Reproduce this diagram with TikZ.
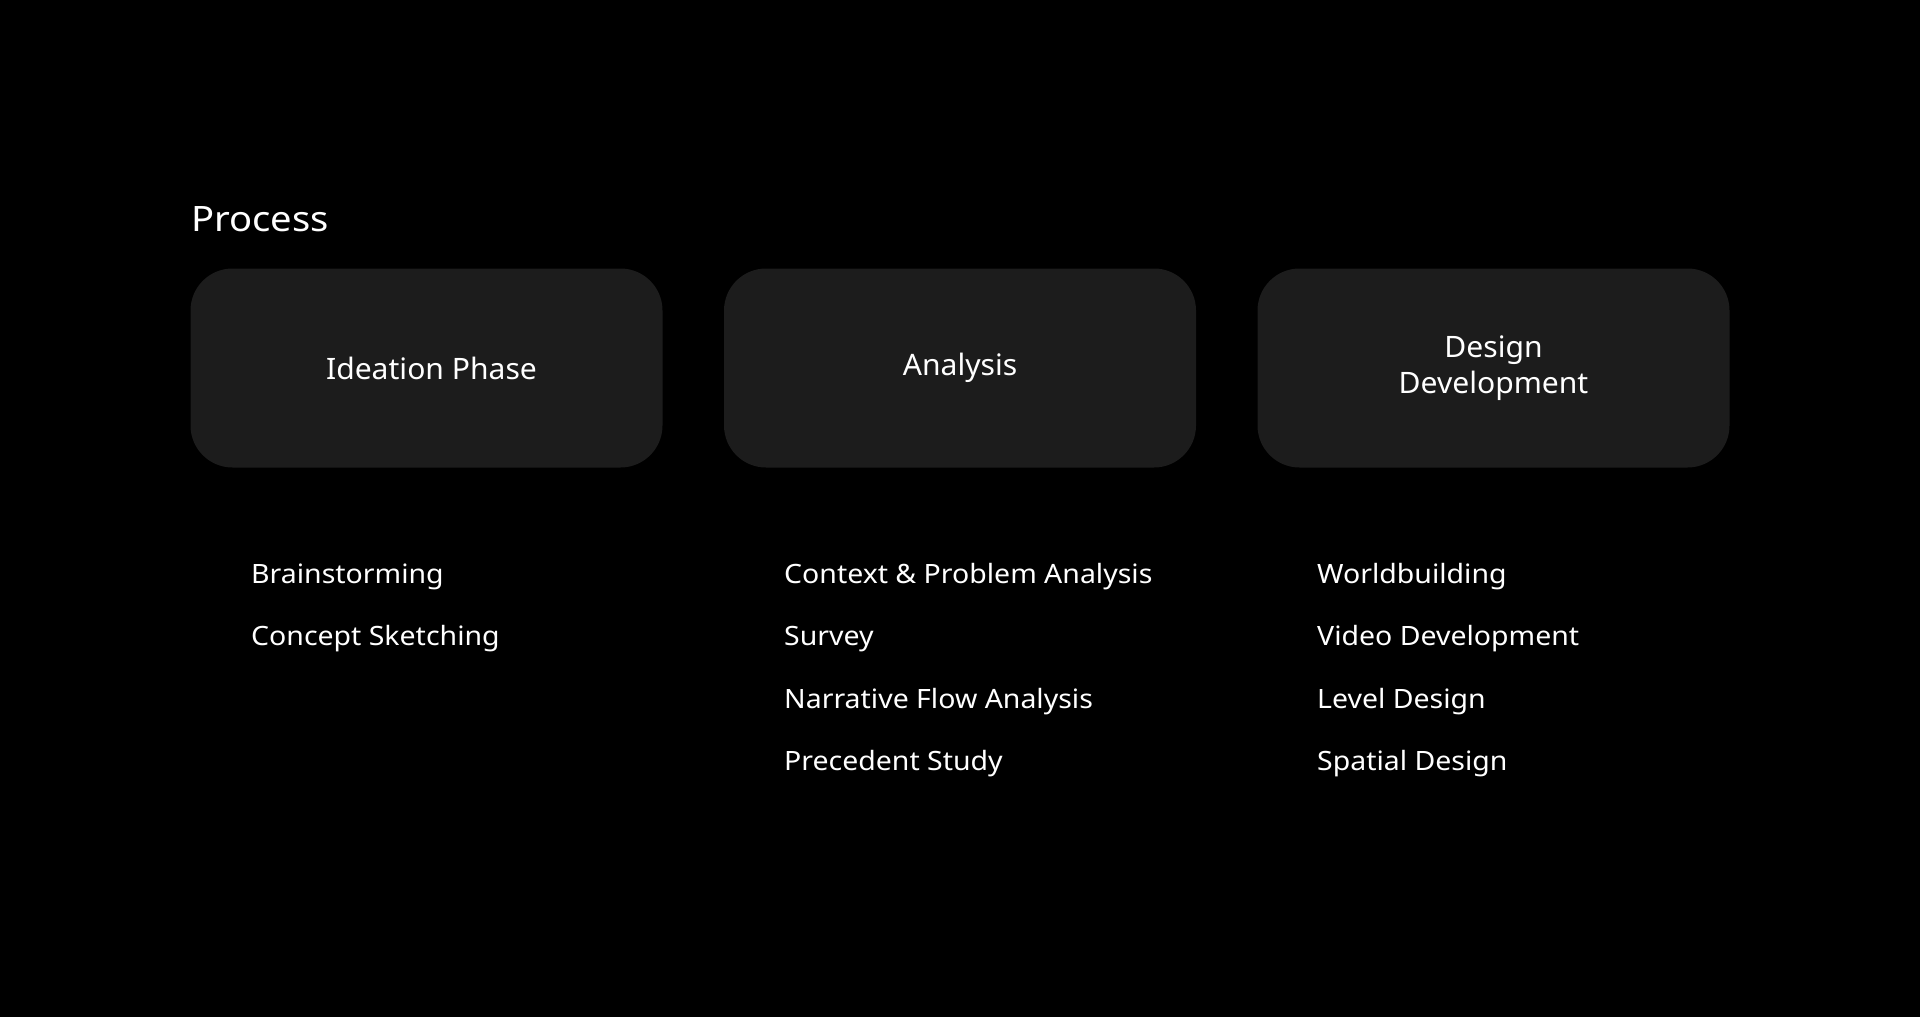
\documentclass[tikz,border=0pt]{standalone}
\usepackage{fontspec}
\setmainfont{Noto Sans}
\newfontfamily\itemfont[FakeStretch=1.07]{Noto Sans}
\newfontfamily\titlefont[FakeStretch=1.09]{Noto Sans}
\newfontfamily\boxfont[FakeStretch=1.02]{Noto Sans}
\definecolor{boxfill}{HTML}{1C1C1C}
\begin{document}
\begin{tikzpicture}[x=1pt,y=-1pt,
  phase/.style={fill=boxfill, rounded corners=42pt, minimum width=472pt, minimum height=199pt, inner sep=0pt, text=white, align=center, font=\boxfont\fontsize{29.5}{36}\selectfont},
  item/.style={anchor=base west, inner sep=0pt, text=white, font=\itemfont\fontsize{26.6}{32}\selectfont},
  title/.style={anchor=base west, inner sep=0pt, text=white, font=\titlefont\fontsize{35}{42}\selectfont}]
\fill[black] (0,0) rectangle (1920,1017);
\useasboundingbox (0,0) rectangle (1920,1017);
\node[title] (ttl) at (191,231) {Process};
\node[phase] (p1) at (426.5,368) {\hspace*{10pt}Ideation Phase};
\node[phase] (p2) at (960,368) {\raisebox{-1.5pt}{Analysis}};
\node[phase] (p3) at (1493.5,368) {\raisebox{-2.5pt}{Design}\\\raisebox{-2.5pt}{Development}};
\node[item] (a1) at (251,583) {Brainstorming};
\node[item] (a2) at (251,645.5) {Concept Sketching};
\node[item] (b1) at (784,583) {Context \& Problem Analysis};
\node[item] (b2) at (784,645.5) {Survey};
\node[item] (b3) at (784,708) {Narrative Flow Analysis};
\node[item] (b4) at (784,770.5) {Precedent Study};
\node[item] (c1) at (1317,583) {Worldbuilding};
\node[item] (c2) at (1317,645.5) {Video Development};
\node[item] (c3) at (1317,708) {Level Design};
\node[item] (c4) at (1317,770.5) {Spatial Design};
\end{tikzpicture}
\end{document}
